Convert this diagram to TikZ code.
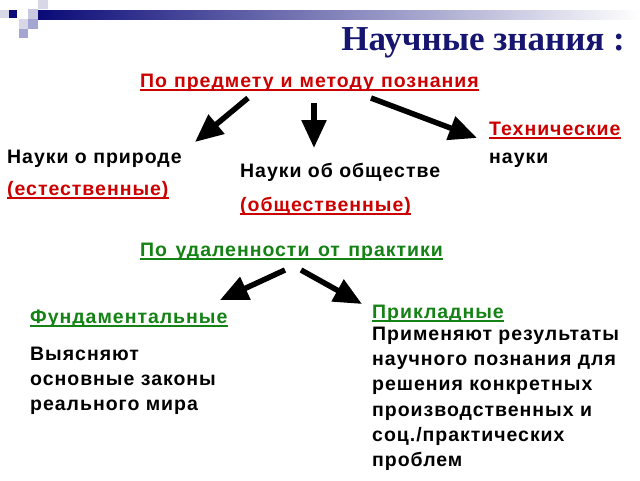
\documentclass[tikz,border=0pt]{standalone}
\usepackage{fontspec}
\setmainfont{Liberation Sans}
\newfontfamily\titlefont{Liberation Serif}
\usetikzlibrary{arrows.meta}
\definecolor{navy}{RGB}{22,22,112}
\definecolor{barnavy}{RGB}{10,10,120}
\definecolor{myred}{RGB}{204,0,0}
\definecolor{mygreen}{RGB}{20,130,20}
\definecolor{sqA}{RGB}{215,215,232}
\definecolor{sqB}{RGB}{165,165,210}
\definecolor{sqC}{RGB}{200,200,225}
\newcommand\spacesA{\spaceskip 7pt\relax}
\newcommand\spacesB{\spaceskip 8.5pt\relax}
\tikzset{
  txt/.style={inner sep=0pt, anchor=base west, font=\bfseries\fontsize{19.5}{24}\selectfont\addfontfeatures{LetterSpace=5}},
  redtxt/.style={txt, text=myred},
  greentxt/.style={txt, text=mygreen},
  bigarrow/.style={line width=5.5pt, -{Triangle[length=28pt,width=24pt]}},
  ulred/.style={draw=myred, line width=1.4pt},
  ulgreen/.style={draw=mygreen, line width=1.4pt}
}
\begin{document}
\begin{tikzpicture}[x=1pt,y=-1pt]
\useasboundingbox (0,0) rectangle (640,480);
% header decoration
\shade[left color=barnavy, right color=white] (38,10) rectangle (640,19);
\fill[sqA] (0,10) rectangle (9,18);
\fill[barnavy] (9,10) rectangle (17,18);
\fill[sqC] (28,9) rectangle (38,19);
\fill[sqA] (38,0) rectangle (48,9);
\fill[sqA] (19,19) rectangle (28,29);
\fill[sqB] (28,19) rectangle (38,29);
\fill[sqB] (19,29) rectangle (28,38);
% title
\node[inner sep=0pt, anchor=base east, font=\titlefont\bfseries\fontsize{35}{40}\selectfont, text=navy] (title) at (625,50) {Научные знания :};
% first group
\node[redtxt] (h1) at (140,87) {\spacesA По предмету и методу познания};
\node[txt] (n1) at (7,163) {Науки о природе};
\node[redtxt] (n1b) at (7,195) {(естественные)};
\node[txt] (n2) at (240,177) {Науки об обществе};
\node[redtxt] (n2b) at (240,211) {(общественные)};
\node[redtxt] (n3) at (489,135) {Технические};
\node[txt] (n3b) at (489,163) {науки};
\coordinate (a1s) at (248,98);  \coordinate (a1e) at (195,142);
\coordinate (a2s) at (314,103); \coordinate (a2e) at (314,148);
\coordinate (a3s) at (371,98);  \coordinate (a3e) at (477,138);
\draw[bigarrow] (a1s) -- (a1e);
\draw[bigarrow] (a2s) -- (a2e);
\draw[bigarrow] (a3s) -- (a3e);
% second group
\node[greentxt] (h2) at (140,256) {\spacesB По удаленности от практики};
\node[greentxt] (f) at (30,323) {Фундаментальные};
\node[txt] (f1) at (30,360) {Выясняют};
\node[txt] (f2) at (30,385) {основные законы};
\node[txt] (f3) at (30,410) {реального мира};
\node[greentxt] (p) at (372,318) {Прикладные};
\node[txt] (p1) at (372,340) {Применяют результаты};
\node[txt] (p2) at (372,365.3) {научного познания для};
\node[txt] (p3) at (372,390.6) {решения конкретных};
\node[txt] (p4) at (372,416) {производственных и};
\node[txt] (p5) at (372,441.3) {соц./практических};
\node[txt] (p6) at (372,466.5) {проблем};
\coordinate (b1s) at (285,270); \coordinate (b1e) at (220,300);
\coordinate (b2s) at (301,270); \coordinate (b2e) at (362,304);
\draw[bigarrow] (b1s) -- (b1e);
\draw[bigarrow] (b2s) -- (b2e);
% underlines
\foreach \n in {h1,n1b,n2b,n3}
  \draw[ulred] ([yshift=-3pt]\n.base west) -- ([yshift=-3pt]\n.base east);
\foreach \n in {h2,f,p}
  \draw[ulgreen] ([yshift=-3pt]\n.base west) -- ([yshift=-3pt]\n.base east);
\end{tikzpicture}
\end{document}
